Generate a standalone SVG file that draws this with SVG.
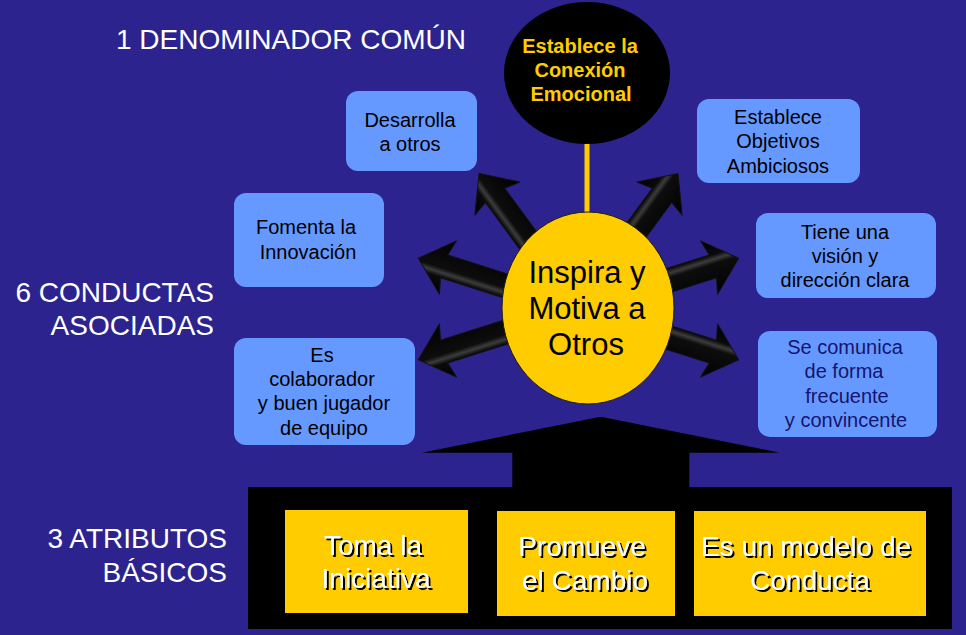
<svg xmlns="http://www.w3.org/2000/svg" xmlns:xlink="http://www.w3.org/1999/xlink" width="966" height="635" viewBox="0 0 966 635">
<style>
.bg{fill:#2C238E}
.box{fill:#6699FF}
.ybox{fill:#FFCC00}
.lbl{font-family:"Liberation Sans",Arial,sans-serif;font-size:28px;fill:#FFFFFF}
.t{font-family:"Liberation Sans",Arial,sans-serif;font-size:20px;fill:#000000;text-anchor:middle}
.tn{fill:#15156E}
.em{font-family:"Liberation Sans",Arial,sans-serif;font-size:20px;font-weight:bold;fill:#FFCC00;text-anchor:middle}
.big{font-family:"Liberation Sans",Arial,sans-serif;font-size:31px;fill:#000000;text-anchor:middle}
.attr{font-family:"Liberation Sans",Arial,sans-serif;font-size:28px;fill:#FFFFFF;text-anchor:middle;filter:url(#ds)}
</style>
<defs>
<filter id="ds" x="-10%" y="-20%" width="130%" height="150%">
<feDropShadow dx="2" dy="2" stdDeviation="0.6" flood-color="#000" flood-opacity="1"/>
</filter>
<linearGradient id="ag" gradientUnits="userSpaceOnUse" x1="0" y1="-28" x2="0" y2="28">
<stop offset="0" stop-color="#000"/>
<stop offset="0.3" stop-color="#0a0a0a"/>
<stop offset="0.38" stop-color="#3c3c3c"/>
<stop offset="0.46" stop-color="#0d0d0d"/>
<stop offset="1" stop-color="#000"/>
</linearGradient>
<path id="arr" d="M0,-12 L141,-12 L137,-28 L168,0 L137,28 L141,12 L0,12 Z" fill="url(#ag)" stroke="#111" stroke-width="1" stroke-linejoin="round"/>
</defs>
<rect class="bg" x="0" y="0" width="966" height="635"/>

<g id="labels">
<text class="lbl" x="116" y="49">1 DENOMINADOR COMÚN</text>
<text class="lbl" x="214" y="302" text-anchor="end">6 CONDUCTAS</text>
<text class="lbl" x="214" y="335" text-anchor="end">ASOCIADAS</text>
<text class="lbl" x="227" y="548" text-anchor="end">3 ATRIBUTOS</text>
<text class="lbl" x="227" y="582" text-anchor="end">BÁSICOS</text>
</g>

<g id="connectors">
<line x1="587" y1="140" x2="587" y2="215" stroke="#FFCC00" stroke-width="5"/>
<use xlink:href="#arr" transform="translate(578.5,309) rotate(197.6)"/>
<use xlink:href="#arr" transform="translate(578.5,309) rotate(233.7)"/>
<use xlink:href="#arr" transform="translate(578.5,309) rotate(306.3)"/>
<use xlink:href="#arr" transform="translate(578.5,309) rotate(342.4)"/>
<use xlink:href="#arr" transform="translate(578.5,309) rotate(17.6)"/>
<use xlink:href="#arr" transform="translate(578.5,309) rotate(162.4)"/>
<polygon points="600.7,416.7 780,452.7 689.3,452.7 689.3,488 512.3,488 512.3,452.7 421.7,452.7" fill="#000"/>
</g>

<g id="n-conexion">
<ellipse cx="587" cy="73" rx="83" ry="71" fill="#000"/>
<text class="em" x="580" y="53">Establece la</text>
<text class="em" x="580" y="77">Conexión</text>
<text class="em" x="581" y="101">Emocional</text>
</g>

<g id="n-inspira">
<ellipse cx="588" cy="308" rx="86" ry="96" fill="#FFCC00" stroke="#1a1a1a" stroke-width="1"/>
<text class="big" x="587" y="283">Inspira y</text>
<text class="big" x="587" y="319">Motiva a</text>
<text class="big" x="586" y="355">Otros</text>
</g>

<g id="n-desarrolla">
<rect class="box" x="346" y="91" width="131" height="80" rx="12"/>
<text class="t" x="410" y="127">Desarrolla</text>
<text class="t" x="410" y="151">a otros</text>
</g>

<g id="n-fomenta">
<rect class="box" x="234" y="193" width="150" height="94" rx="12"/>
<text class="t" x="306" y="234">Fomenta la</text>
<text class="t" x="308" y="259">Innovación</text>
</g>

<g id="n-colaborador">
<rect class="box" x="234" y="338" width="181" height="107" rx="12"/>
<text class="t" x="322" y="362">Es</text>
<text class="t" x="322" y="386">colaborador</text>
<text class="t" x="324" y="410">y buen jugador</text>
<text class="t" x="324" y="435">de equipo</text>
</g>

<g id="n-objetivos">
<rect class="box" x="697" y="99" width="163" height="84" rx="12"/>
<text class="t" x="778" y="124">Establece</text>
<text class="t" x="778" y="148">Objetivos</text>
<text class="t" x="778" y="173">Ambiciosos</text>
</g>

<g id="n-vision">
<rect class="box" x="756" y="213" width="180" height="85" rx="12"/>
<text class="t" x="845" y="239">Tiene una</text>
<text class="t" x="845" y="263">visión y</text>
<text class="t" x="845" y="287">dirección clara</text>
</g>

<g id="n-comunica">
<rect class="box" x="758" y="331" width="179" height="106" rx="12"/>
<text class="t tn" x="845" y="354">Se comunica</text>
<text class="t tn" x="844" y="378">de forma</text>
<text class="t tn" x="847" y="403">frecuente</text>
<text class="t tn" x="846" y="427">y convincente</text>
</g>

<g id="n-base">
<rect x="248" y="487" width="704" height="142" fill="#000"/>
</g>

<g id="n-iniciativa">
<rect class="ybox" x="285" y="510" width="183" height="103"/>
<text class="attr" x="373" y="555">Toma la</text>
<text class="attr" x="376" y="588">Iniciativa</text>
</g>

<g id="n-cambio">
<rect class="ybox" x="497" y="511" width="178" height="105"/>
<text class="attr" x="582" y="556">Promueve</text>
<text class="attr" x="585" y="590">el Cambio</text>
</g>

<g id="n-modelo">
<rect class="ybox" x="694" y="511" width="232" height="105"/>
<text class="attr" x="806" y="556">Es un modelo de</text>
<text class="attr" x="810" y="590">Conducta</text>
</g>
</svg>
